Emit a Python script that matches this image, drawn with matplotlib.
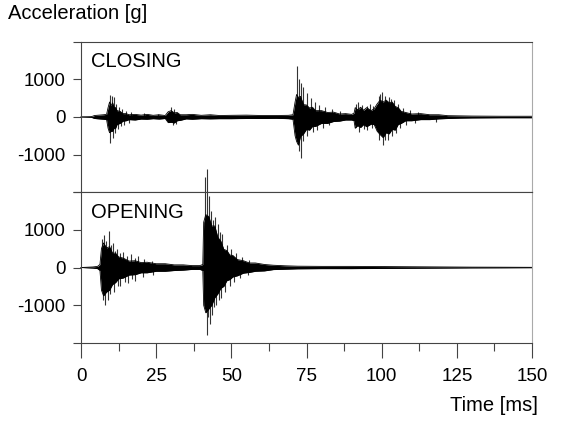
import matplotlib.pyplot as plt
from matplotlib.ticker import MultipleLocator

plt.rcParams['font.family'] = ['Liberation Sans', 'DejaVu Sans']

# envelope of the dense signal (time ms, upper g, lower g)
close_t = [0, 3.5, 4.5, 6, 7.5, 8.5, 9.0, 9.5, 10.0, 10.5, 11.0, 11.5, 12.0, 13.0, 14.0, 15.0,
           16.0, 18, 20, 22, 24, 26, 28, 29, 30, 31, 32, 33, 35, 37, 40, 43, 46, 50, 55, 60,
           65, 69, 70.5, 71.2, 71.7, 72.3, 73, 74, 75, 76, 77, 78, 80, 82, 84, 86, 88, 90,
           90.8, 91.2, 92, 93, 94, 95, 96.5, 97.5, 98.5, 99.5, 100.5, 101.5, 102.5, 103.5,
           104.5, 105.5, 106.5, 108, 110, 113, 116, 119, 122, 126, 130, 140, 150]
close_hi = [0, 10, 40, 50, 60, 70, 250, 400, 300, 380, 260, 250, 170, 150, 90, 90,
            60, 70, 50, 70, 45, 60, 40, 140, 170, 110, 120, 60, 60, 70, 45, 60, 40, 45, 50, 40,
            40, 45, 60, 400, 600, 520, 550, 330, 320, 240, 260, 170, 170, 120, 130, 80, 90, 70,
            100, 250, 190, 260, 180, 250, 170, 220, 350, 450, 400, 450, 380, 400,
            280, 250, 150, 120, 80, 90, 60, 60, 35, 30, 25, 20, 20]
close_lo = [0, -10, -40, -50, -60, -70, -300, -420, -380, -380, -300, -300, -200, -170, -110, -100,
            -70, -80, -55, -60, -45, -55, -40, -150, -140, -160, -100, -90, -50, -60, -45, -50, -45, -45, -40, -40,
            -35, -45, -60, -500, -650, -750, -520, -450, -330, -350, -250, -250, -170, -170, -120, -110, -80, -80,
            -100, -300, -230, -280, -200, -260, -190, -200, -380, -470, -550, -420, -450, -330,
            -350, -200, -170, -100, -100, -70, -70, -50, -40, -30, -25, -20, -20]

# individual spikes sticking out of the envelope
close_spike_t = [9.6, 10.3, 11.0, 11.8, 12.6, 13.5, 14.8, 16.5, 9.7, 10.5, 11.3, 12.2, 13.2, 14.4, 16.0,
                 30.0, 31.0, 30.5, 31.5, 21.0, 25.5,
                 71.8, 72.6, 73.2, 74.0, 75.0, 76.5, 77.8, 79.0, 81.0, 83.5, 86.0,
                 73.2, 72.4, 73.8, 75.3, 77.0, 78.5, 80.5, 82.5,
                 91.5, 92.0, 93.5, 95.0, 96.0, 97.2, 92.5, 94.0, 95.0, 96.8,
                 99.0, 99.5, 100.0, 101.2, 102.5, 103.2, 104.0, 105.5, 107.0, 109.5, 112.0,
                 99.2, 100.3, 101.0, 102.0, 103.5, 104.8, 106.2, 108.0, 111.0, 118.0]
close_spike_v = [580, 560, 520, 350, 260, 220, 160, 130, -700, -560, -420, -330, -250, -200, -150,
                 270, 200, -210, -180, 100, 90,
                 1360, 1000, 900, 800, 650, 500, 400, 330, 260, 200, 150,
                 -1090, -900, -650, -500, -400, -350, -280, -220,
                 350, 400, 330, 300, 350, 280, -400, -330, -350, -300,
                 560, 600, 670, 560, 530, 480, 450, 350, 250, 180, 140,
                 -620, -750, -600, -620, -500, -430, -300, -220, -160, -120]

open_t = [0, 4, 5.5, 6.3, 6.8, 7.5, 8.5, 9.5, 10.5, 11.5, 12.5, 14, 16, 18, 20, 22, 25, 28,
          31, 34, 37, 39.5, 40.5, 40.8, 41.5, 42.5, 43.5, 44.5, 45.5, 46.5, 47.5, 48.5, 49.5,
          50.5, 52, 54, 56, 58, 61, 64, 68, 72, 80, 90, 100, 110, 120, 130, 140, 150]
open_hi = [0, 15, 30, 80, 500, 650, 520, 550, 380, 380, 280, 250, 170, 180, 130, 140, 100, 100,
           70, 70, 50, 50, 80, 1200, 1400, 1350, 1100, 1100, 800, 700, 480, 450, 330,
           320, 210, 180, 120, 120, 80, 60, 45, 35, 30, 30, 25, 20, 15, 10, 8, 5]
open_lo = [0, -15, -30, -80, -600, -750, -650, -600, -450, -400, -300, -280, -200, -190, -140, -140, -100, -100,
           -80, -70, -50, -50, -80, -1000, -1200, -1100, -1000, -800, -700, -550, -500, -350, -320,
           -250, -220, -150, -130, -100, -90, -55, -45, -35, -30, -30, -25, -20, -15, -10, -8, -5]

open_spike_t = [7.0, 7.6, 8.2, 9.3, 10.0, 10.5, 11.2, 12.0, 13.0, 14.0, 15.2, 16.5, 17.8, 19.0, 21.0, 23.5,
                7.4, 8.0, 9.0, 9.8, 11.0, 12.4, 13.0, 14.6, 15.5, 17.0, 18.0, 20.5, 24.0,
                41.4, 41.9, 42.5, 43.3, 44.0, 44.5, 45.5, 46.3, 47.0, 48.5, 50.0, 51.5, 53.5, 56.0,
                41.9, 42.3, 42.8, 43.5, 44.2, 45.0, 45.8, 46.5, 48.0, 49.5, 51.0, 53.0, 55.5]
open_spike_v = [750, 870, 700, 970, 600, 650, 450, 500, 380, 400, 300, 350, 260, 300, 220, 180,
                -850, -1000, -850, -700, -650, -480, -500, -380, -420, -300, -350, -250, -200,
                2390, 2600, 1900, 1500, 1250, 1350, 1150, 950, 900, 600, 500, 380, 280, 200,
                -1800, -1320, -1500, -1250, -1050, -1000, -850, -800, -650, -500, -380, -280, -200]

yticks = [-2000, -1000, 0, 1000, 2000]
ylabels = ['', '-1000', '0', '1000', '']
xticks = [0, 25, 50, 75, 100, 125, 150]

fig = plt.figure(figsize=(5.61, 4.22), dpi=100)
ax1 = fig.add_axes([0.1444, 0.545, 0.8039, 0.3555])
ax2 = fig.add_axes([0.1444, 0.1872, 0.8039, 0.3578])

panels = [(ax1, close_t, close_hi, close_lo, close_spike_t, close_spike_v, 'CLOSING'),
          (ax2, open_t, open_hi, open_lo, open_spike_t, open_spike_v, 'OPENING')]

for ax, t, hi, lo, st, sv, name in panels:
    ax.vlines(st, 0, sv, color='0.2', lw=0.8, clip_on=False, zorder=1)
    ax.fill_between(t, lo, hi, color='black', lw=0, clip_on=False, zorder=2)
    ax.plot(t, hi, color='black', lw=0.6, clip_on=False, zorder=2)
    ax.plot(t, lo, color='black', lw=0.6, clip_on=False, zorder=2)
    ax.set_xlim(0, 150)
    ax.set_ylim(-2000, 2000)
    ax.set_yticks(yticks)
    ax.set_yticklabels(ylabels)
    ax.tick_params(axis='y', direction='out', length=6, width=0.8, color='#444444',
                   labelsize=13.5, pad=5)
    for side in ['left', 'top', 'bottom']:
        ax.spines[side].set_color('#444444')
        ax.spines[side].set_linewidth(0.8)
    ax.spines['right'].set_color('#aaaaaa')
    ax.spines['right'].set_linewidth(0.8)
    ax.text(0.022, 0.93, name, transform=ax.transAxes, ha='left', va='top', fontsize=14.5)

ax1.set_xticks([])
ax2.set_xticks(xticks)
ax2.xaxis.set_minor_locator(MultipleLocator(12.5))
ax2.tick_params(axis='x', which='major', direction='out', length=11, width=0.8,
                color='#444444', labelsize=13.5, pad=7)
ax2.tick_params(axis='x', which='minor', direction='out', length=6, width=0.8, color='#444444')

fig.text(8 / 561, 1 - 4 / 422, 'Acceleration [g]', ha='left', va='top', fontsize=14.5)
fig.text(538 / 561, 1 - 396 / 422, 'Time [ms]', ha='right', va='top', fontsize=14.5)

fig.savefig('out.png', dpi=100)
